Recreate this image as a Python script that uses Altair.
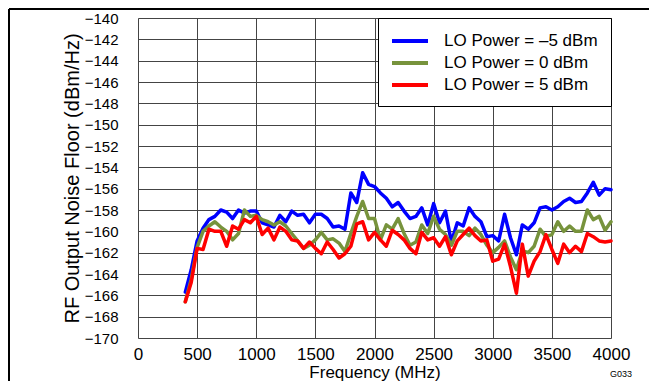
import altair as alt
import pandas as pd

freq = [400, 450, 500, 550, 600, 650, 700, 750, 800, 850, 900, 950, 1000,
        1050, 1100, 1150, 1200, 1250, 1300, 1350, 1400, 1450, 1500, 1550,
        1600, 1650, 1700, 1750, 1800, 1850, 1900, 1950, 2000, 2050, 2100,
        2150, 2200, 2250, 2300, 2350, 2400, 2450, 2500, 2550, 2600, 2650,
        2700, 2750, 2800, 2850, 2900, 2950, 3000, 3050, 3100, 3150, 3200,
        3250, 3300, 3350, 3400, 3450, 3500, 3550, 3600, 3650, 3700, 3750,
        3800, 3850, 3900, 3950, 4000]

lo_m5 = [-165.7, -163.6, -160.9, -159.7, -158.9, -158.6, -158.0, -158.2, -158.8, -158.0,
         -158.3, -158.1, -158.1, -159.2, -159.4, -159.6, -158.5, -159.1, -158.1, -158.5,
         -158.4, -159.2, -158.4, -158.4, -158.8, -159.6, -159.5, -159.8, -156.4, -157.3,
         -154.5, -155.6, -155.8, -156.4, -156.9, -157.7, -157.3, -158.1, -158.8, -158.6,
         -157.8, -159.4, -157.4, -159.2, -158.1, -161.0, -159.2, -159.5, -157.8, -158.6,
         -159.1, -160.5, -160.4, -160.9, -158.4, -160.6, -162.2, -159.4, -159.8, -159.2,
         -157.8, -157.7, -158.0, -157.7, -157.2, -156.9, -157.3, -157.2, -156.4, -155.4,
         -156.6, -156.0, -156.1]

lo_0 = [-166.6, -164.5, -161.5, -160.0, -159.5, -159.1, -159.6, -160.0, -160.8, -160.2,
        -158.0, -158.6, -158.5, -158.9, -159.1, -159.4, -159.1, -159.5, -160.2, -160.9,
        -161.6, -161.3, -160.8, -160.1, -160.8, -160.7, -161.1, -161.9, -160.2, -158.6,
        -157.2, -158.8, -158.8, -160.8, -159.4, -159.8, -158.8, -160.2, -161.3, -161.0,
        -159.4, -160.2, -158.6, -159.8, -160.3, -161.3, -160.0, -160.0, -160.4, -159.7,
        -160.3, -161.3, -162.0, -161.5, -160.9, -162.4, -163.6, -161.8, -162.0, -161.4,
        -159.8, -160.5, -160.3, -159.1, -160.0, -159.5, -160.0, -160.0, -158.0, -158.9,
        -158.6, -159.9, -159.1]

lo_5 = [-166.6, -164.8, -161.6, -161.7, -159.8, -160.0, -160.0, -161.4, -159.5, -159.8,
        -158.9, -159.2, -158.6, -160.3, -159.7, -160.8, -159.6, -160.0, -160.8, -160.9,
        -161.6, -161.0, -161.6, -162.1, -161.0, -161.7, -162.5, -162.1, -161.4, -159.3,
        -159.1, -160.8, -160.1, -160.8, -161.4, -159.9, -160.3, -160.8, -161.6, -162.1,
        -160.1, -160.8, -160.6, -161.4, -160.5, -162.2, -160.9, -160.3, -159.7, -160.4,
        -160.9, -160.8, -162.8, -162.6, -161.2, -163.3, -165.8, -161.2, -164.2, -162.8,
        -161.9, -160.3, -161.7, -163.0, -161.2, -162.0, -161.4, -161.9, -160.2, -160.5,
        -160.9, -161.0, -160.9]

series_names = ["LO Power = \u20135 dBm", "LO Power = 0 dBm", "LO Power = 5 dBm"]
series_colors = ["#0000FF", "#77933C", "#FF0000"]

x_ticks = [0, 500, 1000, 1500, 2000, 2500, 3000, 3500, 4000]
y_ticks = [-170, -168, -166, -164, -162, -160, -158, -156, -154, -152, -150,
           -148, -146, -144, -142, -140]

FONT = "Liberation Sans"

rows = []
for name, vals in zip(series_names, [lo_m5, lo_0, lo_5]):
    for f, v in zip(freq, vals):
        rows.append({"f": f, "v": v, "s": name})
df = pd.DataFrame(rows)

x_enc = alt.X("f:Q", scale=alt.Scale(domain=[0, 4000], nice=False, zero=False),
              axis=alt.Axis(values=x_ticks, grid=True, gridColor="#444444", gridWidth=1,
                            domain=False, ticks=False, tickSize=0, format="d",
                            labelFlush=False,
                            labelFont=FONT, labelFontSize=17, labelColor="black",
                            labelPadding=8, title="Frequency (MHz)", titleFont=FONT,
                            titleFontSize=17, titleFontWeight="normal",
                            titleColor="black", titleBaseline="alphabetic", titleY=39))
y_enc = alt.Y("v:Q", scale=alt.Scale(domain=[-170, -140], nice=False, zero=False),
              axis=alt.Axis(values=y_ticks, grid=True, gridColor="#444444", gridWidth=1,
                            domain=False, ticks=False, tickSize=0, format="d",
                            labelFont=FONT, labelFontSize=15, labelColor="black",
                            labelPadding=20, title="RF Output Noise Floor (dBm/Hz)",
                            titleFont=FONT, titleFontSize=20, titleFontWeight="normal",
                            titleColor="black", titlePadding=2))

color_enc = alt.Color("s:N", scale=alt.Scale(domain=series_names, range=series_colors),
                      legend=alt.Legend(title=None, orient="none", legendX=240, legendY=0,
                                        padding=13, strokeColor="black",
                                        fillColor="white",
                                        symbolType="M-1.125,0H3.375", symbolSize=256,
                                        symbolStrokeWidth=4, labelFont=FONT,
                                        labelFontSize=17, labelColor="black",
                                        labelOffset=33, labelLimit=400, rowPadding=4))

layers = []
for i, name in enumerate(series_names):
    layer = alt.Chart(df).transform_filter(alt.datum.s == name).mark_line(
        strokeWidth=3.5, strokeJoin="round", strokeCap="round"
    ).encode(x=x_enc, y=y_enc, color=color_enc)
    layers.append(layer)

frame_df = pd.DataFrame({"k": [0]})
frame_left = alt.Chart(frame_df).mark_rule(color="black", strokeWidth=2).encode(
    x=alt.value(-129), y=alt.value(-9), y2=alt.value(363))
frame_top = alt.Chart(frame_df).mark_rule(color="black", strokeWidth=2).encode(
    x=alt.value(-129), x2=alt.value(511), y=alt.value(-9))
code_text = alt.Chart(frame_df).mark_text(font=FONT, fontSize=9, color="black",
                                          align="center", baseline="alphabetic").encode(
    x=alt.value(483), y=alt.value(359), text=alt.value("G033"))

chart = alt.layer(*layers, frame_left, frame_top, code_text).properties(
    width=473, height=320,
    autosize=alt.AutoSizeParams(type="none"),
    padding={"left": 130, "top": 10, "right": 38, "bottom": 43},
).configure_view(stroke="black", strokeWidth=3).configure_legend(
    strokeWidth=2
).configure(background="white")

chart.save("out.html", embed_options={"renderer": "svg", "actions": False})
